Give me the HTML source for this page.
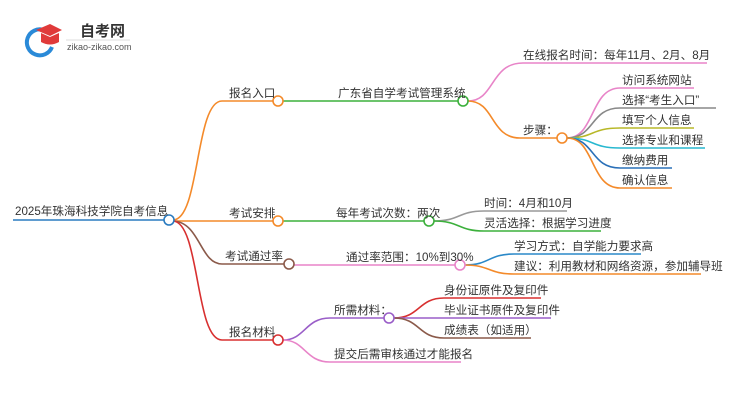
<!DOCTYPE html>
<html><head><meta charset="utf-8"><style>
html,body{margin:0;padding:0;background:#fff;}
svg text{font-family:"Liberation Sans","Noto Sans CJK SC",sans-serif;font-size:11.6px;fill:#333;}
</style></head><body>
<svg width="750" height="410" viewBox="0 0 750 410" xmlns="http://www.w3.org/2000/svg">
<!-- logo -->
<path d="M44 30 A13 13 0 1 0 52 47" fill="none" stroke="#2a8ad8" stroke-width="4"/>
<polygon points="36,30 50,24 62,30 50,36" fill="#e03a3a"/>
<path d="M41 33 L41 42 Q50 47 59 42 L59 33 L50 37 Z" fill="#e03a3a"/>
<text x="80" y="36" style="font-size:15px;font-weight:bold;fill:#333">自考网</text>
<line x1="66" y1="40" x2="130" y2="40" stroke="#ddd"/>
<text x="67" y="50" style="font-size:9px;fill:#555">zikao-zikao.com</text>

<g fill="none" stroke-width="1.6">
<line x1="13" y1="220" x2="165" y2="220" stroke="#2a7bc0"/>
<path d="M173 220 C200 220 195 101 222 101 L273 101" stroke="#f48a2a"/>
<path d="M173 221 L273 221" stroke="#f48a2a"/>
<path d="M173 221 C200 222 200 264 222 264 L284 264" stroke="#8b5a4a"/>
<path d="M173 221 C200 222 195 340 222 340 L273 340" stroke="#d83030"/>
<line x1="283" y1="101" x2="458" y2="101" stroke="#3cb03c"/>
<line x1="283" y1="221" x2="424" y2="221" stroke="#3cb03c"/>
<line x1="294" y1="265" x2="455" y2="265" stroke="#e884c8"/>
<path d="M283 340 C305 340 305 318 330 318 L384 318" stroke="#9a5ec8"/>
<path d="M283 340 C305 340 305 362 330 362 L461 362" stroke="#e884c8"/>
<path d="M468 101 C495 101 490 63 523 63 L707 63" stroke="#e884c8"/>
<path d="M468 101 C495 101 490 138 520 138 L557 138" stroke="#f48a2a"/>
<path d="M567 138 C595 138 590 88 620 88 L694 88" stroke="#e884c8"/>
<path d="M567 138 C595 138 590 108 620 108 L716 108" stroke="#888"/>
<path d="M567 138 C595 138 590 128 620 128 L694 128" stroke="#b8b828"/>
<path d="M567 138 C595 138 590 148 620 148 L705 148" stroke="#28b8d0"/>
<path d="M567 138 C595 138 590 168 620 168 L672 168" stroke="#2a70b8"/>
<path d="M567 138 C595 138 590 188 620 188 L672 188" stroke="#f48a2a"/>
<path d="M434 221 C460 221 458 211 484 211 L567 211" stroke="#999"/>
<path d="M434 221 C460 221 458 231 484 231 L601 231" stroke="#3cb03c"/>
<path d="M465 265 C490 265 488 254 514 254 L641 254" stroke="#2a88c8"/>
<path d="M465 265 C490 265 488 274 514 274 L701 274" stroke="#f48a2a"/>
<path d="M394 318 C420 318 418 298 444 298 L541 298" stroke="#d83030"/>
<path d="M394 318 L551 318" stroke="#9a5ec8"/>
<path d="M394 318 C420 318 418 338 444 338 L531 338" stroke="#8b5a4a"/>
</g>
<g fill="#fff" stroke-width="1.6">
<circle cx="169" cy="220" r="5" stroke="#2a7bc0"/>
<circle cx="278" cy="101" r="5" stroke="#f48a2a"/>
<circle cx="278" cy="221" r="5" stroke="#f48a2a"/>
<circle cx="289" cy="264" r="5" stroke="#8b5a4a"/>
<circle cx="278" cy="340" r="5" stroke="#d83030"/>
<circle cx="463" cy="101" r="5" stroke="#3cb03c"/>
<circle cx="429" cy="221" r="5" stroke="#3cb03c"/>
<circle cx="460" cy="265" r="5" stroke="#e884c8"/>
<circle cx="389" cy="318" r="5" stroke="#9a5ec8"/>
<circle cx="562" cy="138" r="5" stroke="#f48a2a"/>
</g>
<text x="15" y="215">2025年珠海科技学院自考信息</text>
<text x="229" y="97">报名入口</text>
<text x="229" y="217">考试安排</text>
<text x="225" y="260">考试通过率</text>
<text x="229" y="336">报名材料</text>
<text x="338" y="97">广东省自学考试管理系统</text>
<text x="336" y="217">每年考试次数：两次</text>
<text x="346" y="261">通过率范围：10%到30%</text>
<text x="334" y="314">所需材料：</text>
<text x="334" y="358">提交后需审核通过才能报名</text>
<text x="523" y="59">在线报名时间：每年11月、2月、8月</text>
<text x="523" y="134">步骤：</text>
<text x="622" y="84">访问系统网站</text>
<text x="622" y="104">选择“考生入口”</text>
<text x="622" y="124">填写个人信息</text>
<text x="622" y="144">选择专业和课程</text>
<text x="622" y="164">缴纳费用</text>
<text x="622" y="184">确认信息</text>
<text x="484" y="207">时间：4月和10月</text>
<text x="484" y="227">灵活选择：根据学习进度</text>
<text x="514" y="250">学习方式：自学能力要求高</text>
<text x="514" y="270">建议：利用教材和网络资源，参加辅导班</text>
<text x="444" y="294">身份证原件及复印件</text>
<text x="444" y="314">毕业证书原件及复印件</text>
<text x="444" y="334">成绩表（如适用）</text>
</svg>
</body></html>
